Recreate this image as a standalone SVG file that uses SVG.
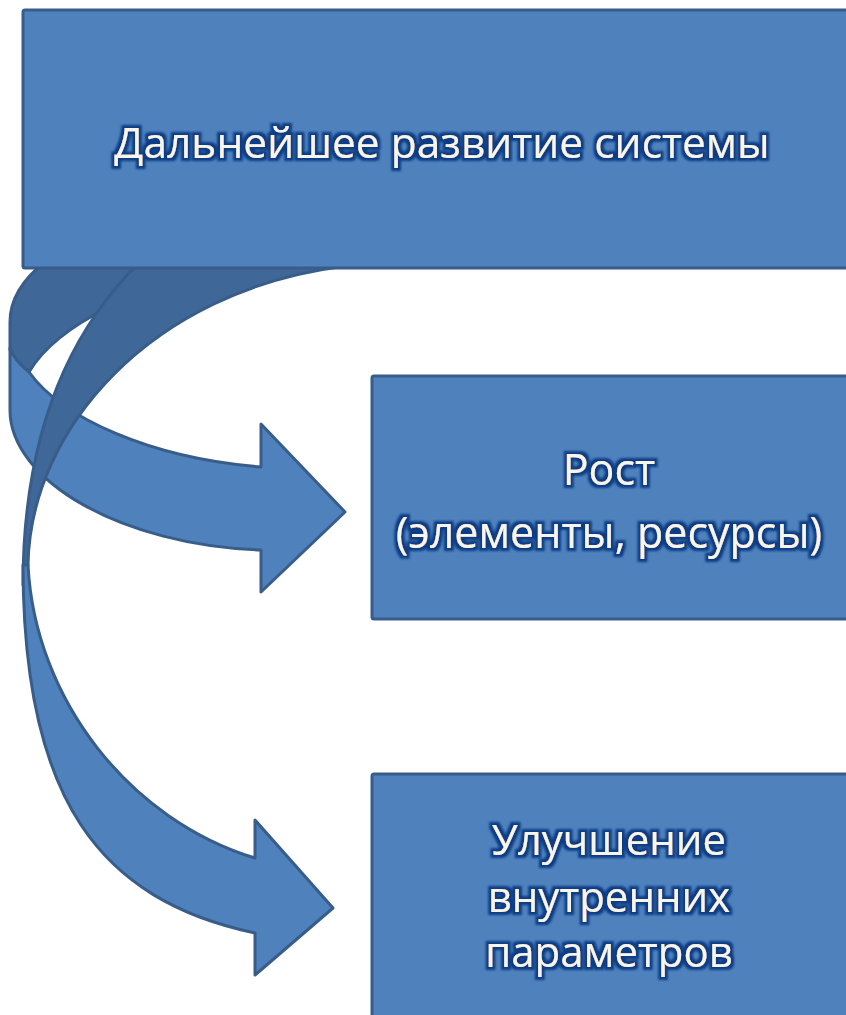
<svg xmlns="http://www.w3.org/2000/svg" width="846" height="1015" viewBox="0 0 846 1015">
<defs>
<style>
.box{fill:#4f81bd;stroke:#385d8a;stroke-width:3;stroke-linejoin:round}
.front{fill:#4f81bd;stroke:#385d8a;stroke-width:3;stroke-linejoin:round}
.back{fill:#3f6798;stroke:#385d8a;stroke-width:3;stroke-linejoin:round}
.t{font-family:"Open Sans","Noto Sans","DejaVu Sans",sans-serif;fill:#f8f5ea;text-anchor:middle;filter:url(#glow)}
</style>
<filter id="glow" x="-10%" y="-30%" width="120%" height="160%">
<feMorphology in="SourceAlpha" operator="dilate" radius="2.6" result="d"/>
<feGaussianBlur in="d" stdDeviation="0.9" result="b"/>
<feFlood flood-color="#0a3c84" result="c"/>
<feComposite in="c" in2="b" operator="in" result="g"/>
<feMerge><feMergeNode in="g"/><feMergeNode in="SourceGraphic"/></feMerge>
</filter>
</defs>
<rect width="846" height="1015" fill="#ffffff"/>
<g id="connectors">
<path class="back" d="M 10,350 L 10,322 C 10,300 22,280 45,262 L 230,262 C 140,290 60,320 29,372 C 20,365 13,357 10,350 Z"/>
<path class="front" d="M 10,348 L 10,410 C 10,480 120,545 261,550 L 261,592 L 345,512 L 261,424 L 261,467 C 150,458 62,418 29,372 C 20,365 13,357 10,348 Z"/>
<path class="back" d="M 140,262 C 65,335 23,440 23,585 L 28,565 C 30,430 150,290 346,266 L 346,262 Z"/>
<path class="front" d="M 23,565 C 23,800 100,900 255,933 L 255,975 L 333,908 L 255,820 L 255,858 C 130,820 35,700 28,565 Z"/>
</g>
<g id="node-top">
<rect class="box" x="23" y="10" width="840" height="258" rx="2"/>
<text class="t" x="442" y="158" font-size="42.5">Дальнейшее развитие системы</text>
</g>
<g id="node-growth">
<rect class="box" x="372" y="376" width="480" height="243" rx="2"/>
<text class="t" x="609" y="485" font-size="43">Рост</text>
<text class="t" x="609" y="548" font-size="43">(элементы, ресурсы)</text>
</g>
<g id="node-improve">
<rect class="box" x="372" y="774" width="480" height="260" rx="2"/>
<text class="t" x="609" y="855" font-size="42">Улучшение</text>
<text class="t" x="609" y="912" font-size="42">внутренних</text>
<text class="t" x="609" y="967" font-size="42">параметров</text>
</g>
</svg>
